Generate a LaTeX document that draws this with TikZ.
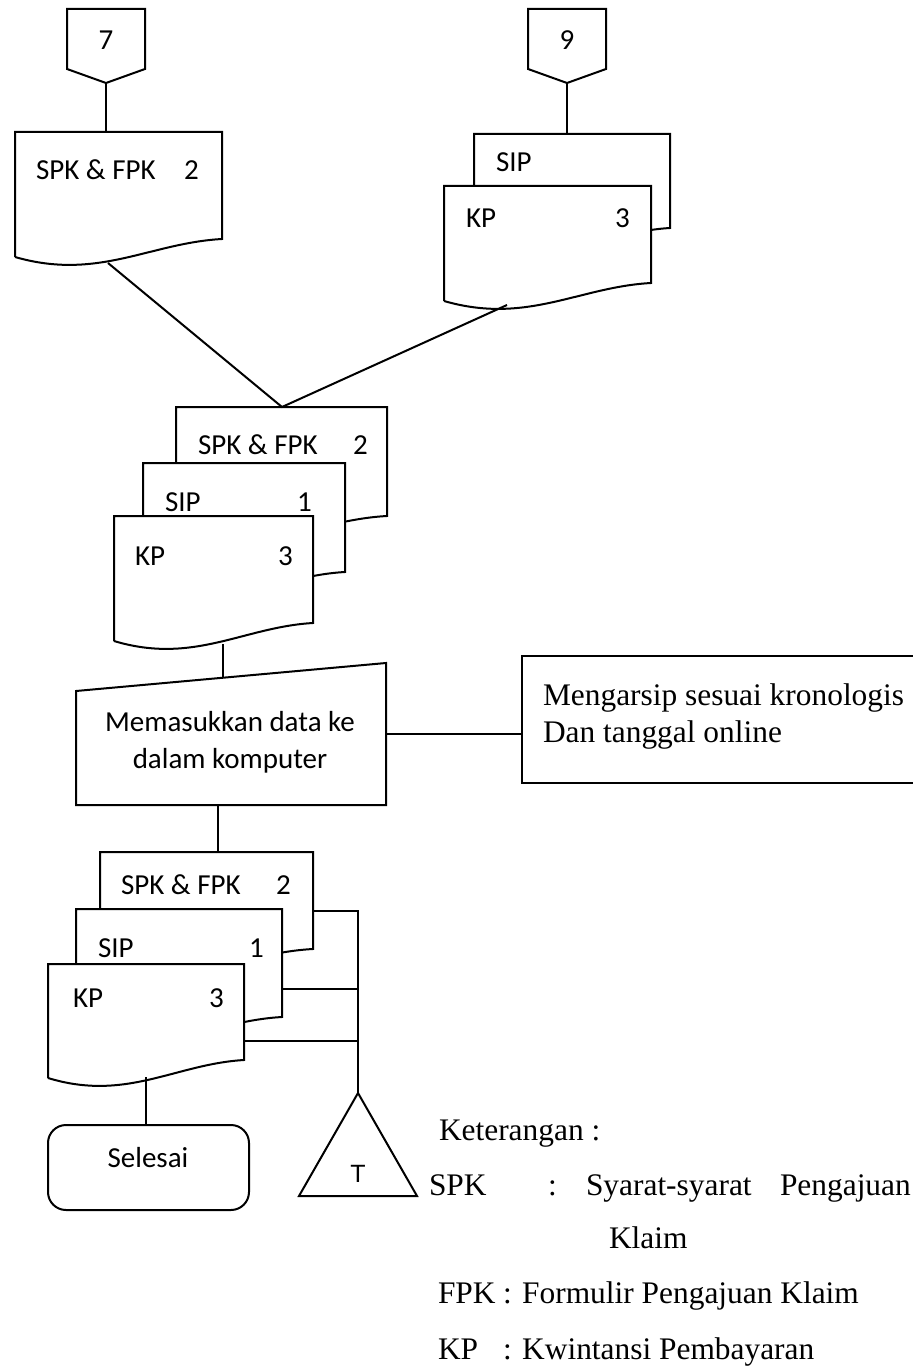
\documentclass[tikz,border=0pt]{standalone}
\usepackage{fontspec}
\setmainfont{Liberation Serif}
\newfontfamily\calibriFont{Carlito}
\newfontfamily\arialFont{Liberation Sans}

\begin{document}
\begin{tikzpicture}[x=0.5pt, y=-0.5pt, line width=1pt,
    docText/.style={font=\calibriFont\fontsize{14.5}{17}\selectfont, anchor=base west, inner sep=0pt},
    noteText/.style={font=\fontsize{15.7}{19}\selectfont, anchor=base west, inner sep=0pt}]
    \definecolor{borderColour}{HTML}{000000}
    \definecolor{fillColour}{HTML}{FFFFFF}

    \def\docDrop{18}

    \useasboundingbox (0,0) rectangle (913,1369);

    % Off-page connectors
    \foreach \cx/\num in {106/7, 567/9} {
        \draw[draw=borderColour] (\cx-39,9) -- (\cx+39,9) -- (\cx+39,69) -- (\cx,83) -- (\cx-39,69) -- cycle;
        \node[docText, anchor=center] (oc\num) at (\cx,40) {\num};
        \coordinate (oc\num b) at (\cx,83);
    }

    % Documents (back to front)
    \foreach \xa/\ya/\xb/\yb in {15/132/222/239, 474/134/670/228, 444/186/651/283,
                                 176/407/387/516, 143/463/345/572, 114/516/313/623,
                                 100/852/313/949, 76/909/282/1017, 48/964/244/1060}
        \draw[draw=borderColour, fill=fillColour] (\xa,\yb+\docDrop) -- (\xa,\ya) -- (\xb,\ya) -- (\xb,\yb)
            .. controls ({\xa+0.65*(\xb-\xa)},{\yb+4}) and ({\xa+0.4*(\xb-\xa)},{\yb+\docDrop+24}) .. (\xa,\yb+\docDrop);

    % Document labels
    \foreach \px/\py/\txt/\nm in {35/180/{SPK \& FPK}/lblA, 183/180/2/numA,
                                  495/172/SIP/lblB,
                                  465/228/KP/lblC, 614/228/3/numC,
                                  197/454/{SPK \& FPK}/lblD, 352/454/2/numD,
                                  164/511/SIP/lblE, 296/511/1/numE,
                                  134/565/KP/lblF, 277/565/3/numF,
                                  120/894/{SPK \& FPK}/lblG, 275/894/2/numG,
                                  97/957/SIP/lblH, 248/957/1/numH,
                                  72/1007/KP/lblI, 208/1007/3/numI}
        \node[docText] (\nm) at (\px,\py) {\txt};

    % Manual input
    \draw[draw=borderColour] (76,691) -- (386,663) -- (386,805) -- (76,805) -- cycle;
    \node[docText, anchor=base] (inLineA) at (230,731) {Memasukkan data ke};
    \node[docText, anchor=base] (inLineB) at (230,768) {dalam komputer};

    % Archive note
    \draw[draw=borderColour] (522,656) rectangle (940,783);
    \node[noteText] (arcLineA) at (542,705) {Mengarsip sesuai kronologis};
    \node[noteText] (arcLineB) at (542,742) {Dan tanggal online};

    % Terminator
    \draw[draw=borderColour, rounded corners=9pt] (48,1125) rectangle (249,1210);
    \node[docText, anchor=base] (endTxt) at (148,1167) {Selesai};

    % File (triangle)
    \draw[draw=borderColour] (358,1093) -- (417,1196) -- (299,1196) -- cycle;
    \node[font=\arialFont\fontsize{12.5}{15}\selectfont, anchor=base, inner sep=0pt] (fileT) at (358,1182) {T};

    % Connection points
    \coordinate (docAtop) at (106,132);
    \coordinate (docAbot) at (108,263);
    \coordinate (docBtop) at (567,134);
    \coordinate (docCbot) at (507,305);
    \coordinate (merge) at (282,407);
    \coordinate (docFbot) at (223,644);
    \coordinate (inTop) at (223,677);
    \coordinate (inRight) at (386,734);
    \coordinate (arcLeft) at (522,734);
    \coordinate (inBot) at (218,805);
    \coordinate (docGtop) at (218,852);
    \coordinate (docIbot) at (146,1077);
    \coordinate (endTop) at (146,1125);
    \coordinate (docGright) at (313,911);
    \coordinate (docHright) at (282,989);
    \coordinate (docIright) at (244,1041);
    \coordinate (busG) at (358,911);
    \coordinate (busH) at (358,989);
    \coordinate (busI) at (358,1041);
    \coordinate (fileTop) at (358,1093);

    % Connectors
    \draw (oc7b) -- (docAtop);
    \draw (oc9b) -- (docBtop);
    \draw (docAbot) -- (merge) -- (docCbot);
    \draw (docFbot) -- (inTop);
    \draw (inRight) -- (arcLeft);
    \draw (inBot) -- (docGtop);
    \draw (docIbot) -- (endTop);
    \draw (docGright) -- (busG) -- (fileTop);
    \draw (docHright) -- (busH);
    \draw (docIright) -- (busI);

    % Legend
    \node[noteText] (keter) at (438,1140) {Keterangan :};
    \node[noteText] (keySPK) at (428,1195) {SPK};
    \node[noteText] (colSPK) at (547,1195) {:};
    \node[noteText] (txtSPKa) at (585,1195) {Syarat-syarat};
    \node[noteText] (txtSPKb) at (779,1195) {Pengajuan};
    \node[noteText] (txtSPKc) at (608,1248) {Klaim};
    \node[noteText] (keyFPK) at (437,1303) {FPK};
    \node[noteText] (txtFPK) at (502,1303) {: Formulir Pengajuan Klaim};
    \node[noteText] (keyKP) at (437,1359) {KP};
    \node[noteText] (txtKP) at (502,1359) {: Kwintansi Pembayaran};

\end{tikzpicture}
\end{document}
